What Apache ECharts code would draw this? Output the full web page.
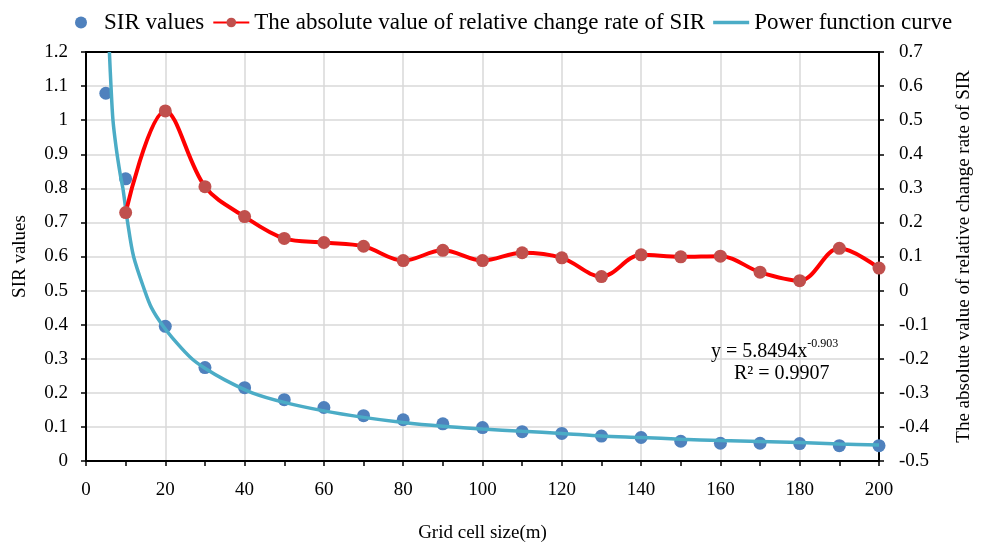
<!DOCTYPE html>
<html>
<head>
<meta charset="utf-8">
<script src="https://cdn.jsdelivr.net/npm/echarts@6/dist/echarts.min.js"></script>
<style>
  html, body { margin: 0; padding: 0; background: #fff; }
  #chart { width: 985px; height: 548px; }
</style>
</head>
<body>
<div id="chart"></div>
<script>
// Grid cell size (m) for each SIR measurement
const gridSizes = [5, 10, 20, 30, 40, 50, 60, 70, 80, 90, 100, 110, 120, 130, 140, 150, 160, 170, 180, 190, 200];
// SIR values (left axis)
const sirValues = [1.079, 0.828, 0.395, 0.274, 0.215, 0.180, 0.157, 0.133, 0.121, 0.109, 0.098, 0.086, 0.081, 0.073, 0.069, 0.058, 0.052, 0.052, 0.051, 0.045, 0.045];

// Absolute relative change rate of SIR (right axis), starting at 10 m
const changeSizes = [10, 20, 30, 40, 50, 60, 70, 80, 90, 100, 110, 120, 130, 140, 150, 160, 170, 180, 190, 200];
const changeRates = [0.229, 0.527, 0.305, 0.217, 0.153, 0.141, 0.130, 0.088, 0.118, 0.088, 0.111, 0.096, 0.041, 0.105, 0.099, 0.101, 0.054, 0.029, 0.124, 0.066];

// Fitted power function curve, sampled points
const curveX = [5.9, 6.3, 6.8, 7.6, 8.65, 9.3, 10.5, 12, 14.8, 16.5, 19.2, 23, 26.7, 30, 35, 41.9, 50, 60, 70, 80, 90, 100, 110, 120, 130, 140, 150, 160, 170, 180, 190, 200];
const curveY = [1.2, 1.1, 1.0, 0.92, 0.84, 0.8, 0.7, 0.6, 0.5, 0.45, 0.4, 0.345, 0.3, 0.272, 0.238, 0.2, 0.172, 0.147, 0.128, 0.113, 0.102, 0.094, 0.087, 0.081, 0.073, 0.069, 0.064, 0.06, 0.057, 0.054, 0.05, 0.047];

// Tick settings
const leftTicks = { min: 0, max: 1.2, interval: 0.1 };
const rightTicks = { min: -0.5, max: 0.7, interval: 0.1 };
const xTicks = { min: 0, max: 200, interval: 20 };

const FONT = '"Liberation Serif", "Times New Roman", serif';
const zip = (xs, ys) => xs.map((x, i) => [x, ys[i]]);

const chart = echarts.init(document.getElementById('chart'), null, { renderer: 'canvas' });

const axisText = { color: '#000', fontFamily: FONT, fontSize: 19 };
const blackLine = { show: true, onZero: false, lineStyle: { color: '#000', width: 2 } };
const blackTick = { show: true, inside: false, length: 5, lineStyle: { color: '#000', width: 1.5 } };

chart.setOption({
  backgroundColor: '#fff',
  animation: false,
  textStyle: { fontFamily: FONT },
  grid: { left: 86, right: 106, top: 52, bottom: 85 },
  legend: {
    top: 6, left: 70,
    itemGap: 8,
    itemWidth: 36, itemHeight: 12,
    textStyle: { color: '#000', fontFamily: FONT, fontSize: 23 },
    data: [
      { name: 'SIR values', icon: 'circle', itemStyle: { color: '#4F81BD' } },
      { name: 'The absolute value of relative change rate of SIR' },
      { name: 'Power function curve', icon: 'path://M0,0L36,0L36,3.5L0,3.5Z', itemStyle: { color: '#4BACC6' } }
    ]
  },
  xAxis: [
    {
      type: 'value',
      position: 'bottom',
      min: xTicks.min, max: xTicks.max, interval: xTicks.interval,
      name: 'Grid cell size(m)',
      nameLocation: 'middle', nameGap: 63,
      nameTextStyle: axisText,
      axisLine: blackLine,
      axisTick: blackTick,
      minorTick: { show: true, splitNumber: 2, length: 5, lineStyle: { color: '#000', width: 1.5 } },
      axisLabel: Object.assign({ margin: 20 }, axisText),
      splitLine: { show: true, lineStyle: { color: '#d9d9d9', width: 1.5 } }
    },
    {
      // top frame line
      type: 'value',
      position: 'top',
      min: xTicks.min, max: xTicks.max, interval: xTicks.interval,
      axisLine: blackLine,
      axisTick: { show: false },
      axisLabel: { show: false },
      splitLine: { show: false }
    }
  ],
  yAxis: [
    {
      type: 'value',
      position: 'left',
      min: leftTicks.min, max: leftTicks.max, interval: leftTicks.interval,
      name: 'SIR values',
      nameLocation: 'middle', nameGap: 56, nameRotate: 90,
      nameTextStyle: axisText,
      axisLine: blackLine,
      axisTick: blackTick,
      axisLabel: Object.assign({ margin: 18 }, axisText),
      splitLine: { show: true, lineStyle: { color: '#d9d9d9', width: 1.5 } }
    },
    {
      type: 'value',
      position: 'right',
      min: rightTicks.min, max: rightTicks.max, interval: rightTicks.interval,
      name: 'The absolute value of relative change rate of SIR',
      nameLocation: 'middle', nameGap: 76, nameRotate: 90,
      nameTextStyle: axisText,
      axisLine: blackLine,
      axisTick: blackTick,
      axisLabel: Object.assign({ margin: 20 }, axisText),
      splitLine: { show: false }
    }
  ],
  series: [
    {
      name: 'SIR values',
      type: 'scatter',
      yAxisIndex: 0,
      symbol: 'circle',
      symbolSize: 13,
      itemStyle: { color: '#4F81BD', opacity: 1 },
      data: zip(gridSizes, sirValues),
      z: 2
    },
    {
      name: 'Power function curve',
      type: 'line',
      yAxisIndex: 0,
      smooth: 0.3,
      symbol: 'none',
      lineStyle: { color: '#4BACC6', width: 3.5 },
      itemStyle: { color: '#4BACC6' },
      data: zip(curveX, curveY),
      z: 3
    },
    {
      name: 'The absolute value of relative change rate of SIR',
      type: 'line',
      yAxisIndex: 1,
      smooth: 0.35,
      symbol: 'circle',
      symbolSize: 13,
      lineStyle: { color: '#FF0000', width: 4 },
      itemStyle: { color: '#C0504D', borderWidth: 0 },
      data: zip(changeSizes, changeRates),
      z: 4
    }
  ],
  graphic: [
    {
      type: 'text',
      left: 711, top: 338,
      z: 10,
      style: {
        text: '{a|y = 5.8494x}{b|-0.903}',
        rich: {
          a: { fontFamily: FONT, fontSize: 20, fill: '#000', lineHeight: 24, verticalAlign: 'bottom' },
          b: { fontFamily: FONT, fontSize: 12, fill: '#000', lineHeight: 24, verticalAlign: 'top' }
        }
      }
    },
    {
      type: 'text',
      left: 734, top: 364,
      z: 10,
      style: {
        text: 'R² = 0.9907',
        fontFamily: FONT, fontSize: 20, fill: '#000'
      }
    }
  ]
});
</script>
</body>
</html>
